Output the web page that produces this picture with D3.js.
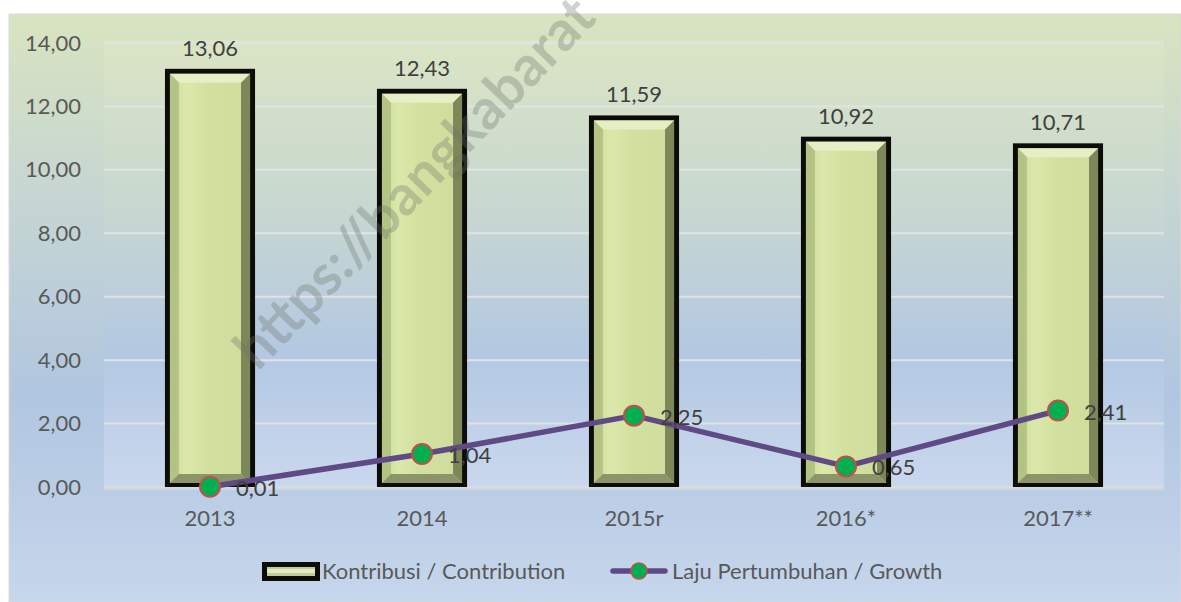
<!DOCTYPE html>
<html>
<head>
<meta charset="utf-8">
<script src="https://cdn.jsdelivr.net/npm/d3@7"></script>
<style>
  body { margin: 0; background: #fff; }
  svg { display: block; font-family: Lato, "Open Sans", sans-serif; }
</style>
</head>
<body>
<svg id="chart" width="1181" height="602"></svg>
<script>
const years = ["2013", "2014", "2015r", "2016*", "2017**"];
const contribution = [13.06, 12.43, 11.59, 10.92, 10.71];
const growth = [0.01, 1.04, 2.25, 0.65, 2.41];
const yTicks = [0, 2, 4, 6, 8, 10, 12, 14];
const legendLabels = ["Kontribusi / Contribution", "Laju Pertumbuhan / Growth"];
const watermark = "https://bangkabarat";

let svg = d3.select("#chart");
let fmt = (v) => v.toFixed(2).replace(".", ",");
let fontSize = 22;

let defs = svg.append("defs");

let outerGrad = defs.append("linearGradient").attr("id", "outerGrad")
  .attr("x1", 0).attr("y1", 0).attr("x2", 0).attr("y2", 1);
outerGrad.append("stop").attr("offset", "0%").attr("stop-color", "#d8e4c0");
outerGrad.append("stop").attr("offset", "35%").attr("stop-color", "#c4d4d4");
outerGrad.append("stop").attr("offset", "65%").attr("stop-color", "#b1c6e0");
outerGrad.append("stop").attr("offset", "100%").attr("stop-color", "#c6d6ec");

let plotGrad = defs.append("linearGradient").attr("id", "plotGrad")
  .attr("x1", 0).attr("y1", 0).attr("x2", 0).attr("y2", 1);
plotGrad.append("stop").attr("offset", "0%").attr("stop-color", "#dbe5c4");
plotGrad.append("stop").attr("offset", "40%").attr("stop-color", "#c6d6d2");
plotGrad.append("stop").attr("offset", "70%").attr("stop-color", "#b3c8e2");
plotGrad.append("stop").attr("offset", "100%").attr("stop-color", "#cad8ee");

let faceGrad = defs.append("linearGradient").attr("id", "faceGrad")
  .attr("x1", 0).attr("y1", 0).attr("x2", 1).attr("y2", 0);
faceGrad.append("stop").attr("offset", "0%").attr("stop-color", "#c9d995");
faceGrad.append("stop").attr("offset", "20%").attr("stop-color", "#dbe8ab");
faceGrad.append("stop").attr("offset", "45%").attr("stop-color", "#d3e1a0");
faceGrad.append("stop").attr("offset", "100%").attr("stop-color", "#cfdd9c");

// chart area
svg.append("rect")
  .attr("x", 9).attr("y", 14).attr("width", 1172).attr("height", 588)
  .attr("fill", "url(#outerGrad)")
  .attr("stroke", "#d9d9d9");

let x = d3.scaleBand()
  .domain(years)
  .range([104, 1164])
  .paddingInner(0.575)
  .paddingOuter(0.2875);

let y = d3.scaleLinear()
  .domain([0, 14])
  .range([487, 43]);

// plot area
svg.append("rect")
  .attr("x", 104).attr("y", y(14) - 3)
  .attr("width", 1060).attr("height", y(0) - y(14) + 6)
  .attr("fill", "url(#plotGrad)");

// gridlines
svg.append("g")
  .selectAll("line")
  .data(yTicks)
  .enter()
  .append("line")
  .attr("x1", 104).attr("x2", 1164)
  .attr("y1", (d) => y(d)).attr("y2", (d) => y(d))
  .attr("stroke", (d) => d === 0 ? "#dcdad2" : "#dfe3e6")
  .attr("stroke-width", 2);

// y axis labels
let yAxis = d3.axisLeft(y).tickValues(yTicks).tickFormat(fmt).tickSize(0).tickPadding(23);
let yAxisG = svg.append("g").attr("transform", "translate(104,0)").call(yAxis);
yAxisG.select(".domain").remove();
yAxisG.selectAll("text").attr("font-size", fontSize).attr("fill", "#595959")
  .attr("font-family", "Lato, sans-serif");

// x axis labels
let xAxis = d3.axisBottom(x).tickSize(0).tickPadding(23);
let xAxisG = svg.append("g").attr("transform", `translate(0,${y(0)})`).call(xAxis);
xAxisG.select(".domain").remove();
xAxisG.selectAll("text").attr("font-size", fontSize).attr("fill", "#595959")
  .attr("font-family", "Lato, sans-serif");

// bars
let bw = x.bandwidth();
let bars = svg.append("g")
  .selectAll("g")
  .data(years.map((yr, i) => ({ yr: yr, v: contribution[i] })))
  .enter()
  .append("g");

bars.each(function (d) {
  let g = d3.select(this);
  let x0 = x(d.yr), x1 = x0 + bw;
  let t = y(d.v) - 4, b = y(0);
  let ix0 = x0 + 5, ix1 = x1 - 5, it = t + 5, ib = b - 4;
  let bv = 9;
  g.append("rect").attr("x", x0).attr("y", t).attr("width", bw).attr("height", b - t).attr("fill", "#0c0c08");
  g.append("rect").attr("x", ix0).attr("y", it).attr("width", ix1 - ix0).attr("height", ib - it).attr("fill", "url(#faceGrad)");
  // bevels
  g.append("path").attr("fill", "#e6eec6")
    .attr("d", `M${ix0},${it}L${ix1},${it}L${ix1 - bv},${it + bv}L${ix0 + bv},${it + bv}Z`);
  g.append("path").attr("fill", "#b3c383")
    .attr("d", `M${ix0},${it}L${ix0 + bv},${it + bv}L${ix0 + bv},${ib - bv}L${ix0},${ib}Z`);
  g.append("path").attr("fill", "#7c875a")
    .attr("d", `M${ix1},${it}L${ix1},${ib}L${ix1 - bv},${ib - bv}L${ix1 - bv},${it + bv}Z`);
  g.append("path").attr("fill", "#8b956a")
    .attr("d", `M${ix0},${ib}L${ix0 + bv},${ib - bv}L${ix1 - bv},${ib - bv}L${ix1},${ib}Z`);
  g.append("text")
    .attr("x", x0 + bw / 2).attr("y", y(d.v) - 17)
    .attr("text-anchor", "middle")
    .attr("font-size", fontSize).attr("fill", "#404040")
    .text(fmt(d.v));
});

// growth line
let pts = years.map((yr, i) => ({ yr: yr, v: growth[i] }));
let line = d3.line()
  .x((d) => x(d.yr) + bw / 2)
  .y((d) => y(d.v));

svg.append("path")
  .datum(pts)
  .attr("d", line)
  .attr("fill", "none")
  .attr("stroke", "#5f4a85")
  .attr("stroke-width", 5.5)
  .attr("stroke-linejoin", "round");

svg.append("g")
  .selectAll("circle")
  .data(pts)
  .enter()
  .append("circle")
  .attr("cx", (d) => x(d.yr) + bw / 2)
  .attr("cy", (d) => y(d.v))
  .attr("r", 10)
  .attr("fill", "#00b050")
  .attr("stroke", "#c0504d")
  .attr("stroke-width", 2);

svg.append("g")
  .selectAll("text")
  .data(pts)
  .enter()
  .append("text")
  .attr("x", (d) => x(d.yr) + bw / 2 + 26)
  .attr("y", (d) => y(d.v) + 9)
  .attr("font-size", fontSize).attr("fill", "#404040")
  .text((d) => fmt(d.v));

// legend
let leg = svg.append("g");
leg.append("rect").attr("x", 262).attr("y", 562).attr("width", 58).attr("height", 19).attr("fill", "#0c0c08");
leg.append("rect").attr("x", 267).attr("y", 567).attr("width", 48).attr("height", 9).attr("fill", "#c2cc98");
leg.append("rect").attr("x", 267).attr("y", 569).attr("width", 48).attr("height", 4).attr("fill", "#e3ebc4");
leg.append("text").attr("x", 322).attr("y", 579).attr("font-size", fontSize).attr("fill", "#595959").text(legendLabels[0]);

leg.append("line").attr("x1", 613).attr("x2", 665).attr("y1", 571).attr("y2", 571)
  .attr("stroke", "#5f4a85").attr("stroke-width", 5.5).attr("stroke-linecap", "round");
leg.append("circle").attr("cx", 639).attr("cy", 571).attr("r", 8)
  .attr("fill", "#00b050").attr("stroke", "#c0504d").attr("stroke-width", 1.5);
leg.append("text").attr("x", 672).attr("y", 579).attr("font-size", fontSize).attr("fill", "#595959").text(legendLabels[1]);

// watermark
svg.append("text")
  .attr("transform", "translate(258,372) rotate(-46)")
  .attr("font-size", 56).attr("font-weight", "bold")
  .attr("font-family", "Lato, sans-serif")
  .attr("fill", "rgba(105,115,105,0.32)")
  .text(watermark);
</script>
</body>
</html>
